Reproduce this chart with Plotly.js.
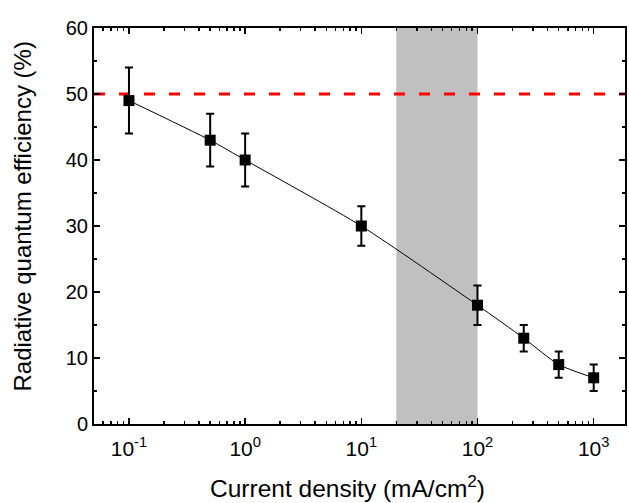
<!DOCTYPE html>
<html><head><meta charset="utf-8">
<script src="https://cdn.plot.ly/plotly-3.0.1.min.js"></script>
<style>html,body{margin:0;padding:0;background:#fff}#c{width:629px;height:503px}</style>
</head><body><div id="c"></div>
<script>
const currentDensity = [0.1, 0.5, 1, 10, 100, 250, 500, 1000];
const efficiency = [49, 43, 40, 30, 18, 13, 9, 7];
const errorBar = [5, 4, 4, 3, 3, 2, 2, 2];
const bandRange = [20, 100];
const limitLine = 50;
const xTickVals = [0.1, 1, 10, 100, 1000];
const xTickText = ['10<sup>-1</sup>', '10<sup>0</sup>', '10<sup>1</sup>', '10<sup>2</sup>', '10<sup>3</sup>'];
const xTitle = 'Current density (mA/cm<sup>2</sup>)';
const yTitle = 'Radiative quantum efficiency (%)';

const minorVals = [];
for (let d = -2; d <= 3; d++) for (let m = 2; m <= 9; m++) minorVals.push(m * Math.pow(10, d));

const font = {family: 'Liberation Sans, Arial, sans-serif', color: '#000'};
const xMin = 0.05, xMax = 1860;

const traces = [
  {x: [xMin, xMax], y: [limitLine, limitLine], mode: 'lines', line: {color: '#ff0000', width: 3, dash: '11px,14px'}, hoverinfo: 'skip', showlegend: false},
  {x: currentDensity, y: efficiency, mode: 'lines+markers',
   line: {color: '#000', width: 1, shape: 'spline', smoothing: 0.6},
   marker: {symbol: 'square', size: 11, color: '#000'},
   error_y: {type: 'data', array: errorBar, visible: true, color: '#000', thickness: 2, width: 4},
   showlegend: false}
];

const axisCommon = {showline: true, linecolor: '#000', linewidth: 2, mirror: 'ticks', ticks: 'inside', tickcolor: '#000', tickwidth: 1.5, ticklen: 6, showgrid: false, zeroline: false};

const layout = {
  width: 629, height: 503,
  margin: {l: 94, r: 4, t: 28, b: 79},
  paper_bgcolor: '#fff', plot_bgcolor: '#fff',
  font: font,
  xaxis: Object.assign({}, axisCommon, {
    type: 'log', range: [Math.log10(xMin), Math.log10(xMax)],
    tickmode: 'array', tickvals: xTickVals, ticktext: xTickText, ticklabelstandoff: 5,
    tickfont: Object.assign({size: 21}, font),
    minor: {tickmode: 'array', tickvals: minorVals, ticks: 'inside', ticklen: 3, tickcolor: '#000', tickwidth: 1.5}
  }),
  yaxis: Object.assign({}, axisCommon, {
    range: [0, 60], dtick: 10,
    tickfont: Object.assign({size: 20}, font),
    minor: {dtick: 5, ticks: 'inside', ticklen: 3, tickcolor: '#000', tickwidth: 1.5}
  }),
  annotations: [
    {text: xTitle, xref: 'paper', yref: 'paper', x: 0.477, y: 0, xanchor: 'center', yanchor: 'middle', yshift: -62, showarrow: false, font: Object.assign({size: 24.5}, font)},
    {text: yTitle, xref: 'paper', yref: 'paper', x: 0, y: 0.524, xanchor: 'center', yanchor: 'middle', xshift: -72, textangle: -90, showarrow: false, font: Object.assign({size: 24}, font)}
  ],
  shapes: [{type: 'rect', xref: 'x', yref: 'paper', x0: bandRange[0], x1: bandRange[1], y0: 0, y1: 1, fillcolor: '#c0c0c0', line: {width: 0}, layer: 'below'}]
};

Plotly.newPlot('c', traces, layout, {displayModeBar: false, staticPlot: true});
</script></body></html>
